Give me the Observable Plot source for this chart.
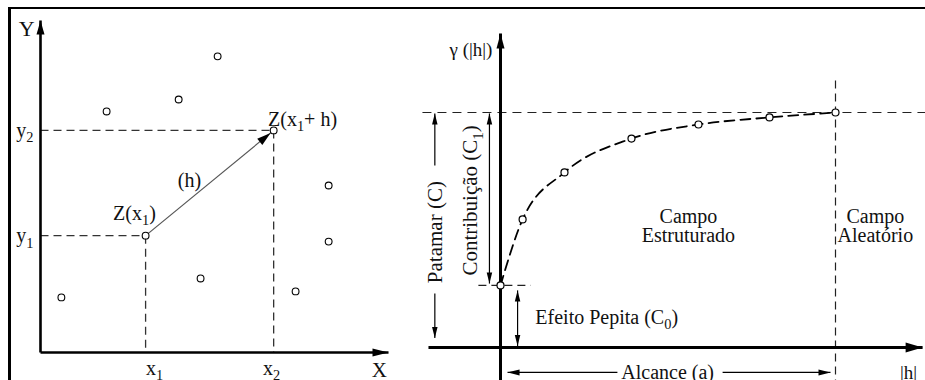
<!DOCTYPE html>
<html><head><meta charset="utf-8">
<script src="https://cdn.jsdelivr.net/npm/d3@7"></script>
<script src="https://cdn.jsdelivr.net/npm/@observablehq/plot@0.6"></script>
<style>
html,body{margin:0;padding:0;background:#fff}
#wrap{position:relative;width:925px;height:380px;overflow:hidden}
#left,#right{position:absolute;top:0;height:380px}
#left{left:0;width:400px}
#right{left:400px;width:525px}
#frame{position:absolute;left:8px;top:7px;right:-5px;bottom:-5px;border-top:2px solid #000;border-left:3px solid #000;pointer-events:none}
</style></head><body>
<div id="wrap"><div id="left"></div><div id="right"></div><div id="frame"></div></div>
<script>
// ---------- Left panel: sample locations (arbitrary spatial units, 0–100) ----------
const sampleX = [6.0, 19.0, 39.7, 50.9, 82.8, 82.8, 46.0, 73.3];
const sampleY = [16.6, 72.6, 76.2, 89.2, 50.3, 33.4, 22.3, 18.4];
const pairX = [30.2, 67.0];           // x1, x2
const pairY = [35.2, 66.9];           // y1, y2
const pairNames = ["Z(x_1)", "Z(x_1+ h)"];
const pairLabelX = [27.0, 75.3];
const pairLabelY = [41.9, 70.2];
const xTickLabels = ["x_1", "x_2"];
const xTickLabelX = [32.8, 66.4];
const yTickLabels = ["y_1", "y_2"];
const lagLabel = ["(h)"];
const axisNames = ["X", "Y"];

// ---------- Right panel: semivariogram (|h| in % of range, γ in units of sill) ----------
const lag = [0, 6.6, 19.1, 39.1, 59.1, 80.3, 100];
const gamma = [0.264, 0.545, 0.745, 0.889, 0.949, 0.979, 1.0];
const nugget = 0.264, sill = 1.0, rangeA = 100;
const fieldNames = ["Campo\nEstruturado", "Campo\nAleatório"];
const fieldX = [56.1, 111.9];
const dimLabels = ["Patamar (C)", "Contribuição (C_1)"];
const dimLabelX = [-19.6, -9.0];
const dimLabelY = [0.491, 0.626];

const SVGNS = "http://www.w3.org/2000/svg";
const FONT = "'Liberation Serif', 'Times New Roman', serif";
const INK = "#111";

// filled arrow head symbol, pointing along (dx,dy) in screen space, tip offset by inset px
function head(dx, dy, len, wid, inset = 0) {
  const n = Math.hypot(dx, dy), ux = dx / n, uy = dy / n;
  return {draw(ctx) {
    const tx = ux * inset, ty = uy * inset;
    const bx = tx - ux * len, by = ty - uy * len;
    ctx.moveTo(tx, ty);
    ctx.lineTo(bx - uy * wid / 2, by + ux * wid / 2);
    ctx.lineTo(bx + uy * wid / 2, by - ux * wid / 2);
    ctx.closePath();
  }};
}
const headDot = (pts, sym) => Plot.dot(pts, {x: "x", y: "y", symbol: sym, r: 5, fill: "#000", stroke: "none"});

function addSubscripts(svg) {
  svg.querySelectorAll("text").forEach(t => {
    if (t.querySelector("tspan")) return;
    const s = t.textContent;
    if (!s.includes("_")) return;
    const fs = parseFloat(getComputedStyle(t).fontSize) || 20;
    const shift = fs * 0.28;
    t.textContent = "";
    let prevSub = false;
    s.split(/_(\d)/).forEach((part, i) => {
      if (!part) return;
      const ts = document.createElementNS(SVGNS, "tspan");
      ts.textContent = part;
      if (i % 2) { ts.setAttribute("font-size", (fs * 0.72).toFixed(1)); ts.setAttribute("dy", shift); prevSub = true; }
      else if (prevSub) { ts.setAttribute("dy", -shift); prevSub = false; }
      t.appendChild(ts);
    });
  });
}

// ---------- LEFT PLOT ----------
const lxR = [40, 388], lyR = [352, 20];
const lx = d3.scaleLinear([0, 100], lxR), ly = d3.scaleLinear([0, 100], lyR);
const samples = sampleX.map((x, i) => ({x, y: sampleY[i]}));
const pair = pairX.map((x, i) => ({x, y: pairY[i], name: pairNames[i], lx: pairLabelX[i], ly: pairLabelY[i],
  tx: xTickLabels[i], txx: xTickLabelX[i], ty: yTickLabels[i]}));
const hdx = lx(pairX[1]) - lx(pairX[0]), hdy = ly(pairY[1]) - ly(pairY[0]);

const left = Plot.plot({
  width: 400, height: 380, margin: 0,
  x: {domain: [0, 100], range: lxR, axis: null},
  y: {domain: [0, 100], range: lyR, axis: null},
  style: {background: "transparent", overflow: "visible", fontFamily: FONT, color: INK},
  marks: [
    Plot.link(pair, {x1: () => 0, y1: "y", x2: "x", y2: "y", stroke: "#333", strokeWidth: 1.3, strokeDasharray: "8,5"}),
    Plot.link(pair, {x1: "x", y1: "y", x2: "x", y2: () => 0, stroke: "#333", strokeWidth: 1.3, strokeDasharray: "8,5"}),
    Plot.link([0], {x1: () => 0, y1: () => 0, x2: () => 0, y2: () => 100, stroke: "#000", strokeWidth: 2.6}),
    Plot.link([0], {x1: () => 0, y1: () => 0, x2: () => 100, y2: () => 0, stroke: "#000", strokeWidth: 2.6}),
    headDot([{x: 0, y: 100}], head(0, -1, 14, 8)),
    headDot([{x: 100, y: 0}], head(1, 0, 16, 8)),
    Plot.link([0], {x1: () => pairX[0], y1: () => pairY[0], x2: () => pairX[1], y2: () => pairY[1], stroke: "#555", strokeWidth: 1.2}),
    headDot([{x: pairX[1], y: pairY[1]}], head(hdx, hdy, 14, 8, -4)),
    Plot.dot(samples, {x: "x", y: "y", r: 3.4, fill: "#fff", stroke: "#000", strokeWidth: 1.1}),
    Plot.dot(pair, {x: "x", y: "y", r: 3.4, fill: "#fff", stroke: "#000", strokeWidth: 1.1}),
    Plot.text(pair, {x: "lx", y: "ly", text: "name", fontSize: 20}),
    Plot.text(pair, {x: "txx", y: () => -4.8, text: "tx", fontSize: 20}),
    Plot.text(pair, {x: () => -2.0, y: "y", text: "ty", textAnchor: "end", fontSize: 20}),
    Plot.text(lagLabel, {x: () => 42.8, y: () => 51.8, text: d => d, fontSize: 20}),
    Plot.text([axisNames[0]], {x: () => 97.4, y: () => -5.4, text: d => d, fontSize: 21}),
    Plot.text([axisNames[1]], {x: () => -4.0, y: () => 97.6, text: d => d, fontSize: 22})
  ]
});
document.getElementById("left").appendChild(left);
addSubscripts(left);

// ---------- RIGHT PLOT ----------
const rxR = [100, 435], ryR = [347, 112];
const model = lag.map((h, i) => ({x: h, y: gamma[i]}));
const fields = fieldNames.map((t, i) => ({t, x: fieldX[i], y: 0.515}));
const dims = dimLabels.map((t, i) => ({t, x: dimLabelX[i], y: dimLabelY[i]}));

const right = Plot.plot({
  width: 525, height: 380, margin: 0,
  x: {domain: [0, 100], range: rxR, axis: null},
  y: {domain: [0, 1], range: ryR, axis: null},
  style: {background: "transparent", overflow: "visible", fontFamily: FONT, color: INK},
  marks: [
    // sill, range and nugget guides
    Plot.link([sill], {x1: () => -23.3, x2: () => 127, y1: d => d, y2: d => d, stroke: "#222", strokeWidth: 1.2, strokeDasharray: "9,6"}),
    Plot.link([rangeA], {x1: d => d, x2: d => d, y1: () => 1.136, y2: () => -0.16, stroke: "#222", strokeWidth: 1.2, strokeDasharray: "8,5"}),
    Plot.link([nugget], {x1: () => -6.6, x2: () => 9.0, y1: d => d, y2: d => d, stroke: "#222", strokeWidth: 1.2, strokeDasharray: "8,5"}),
    // axes
    Plot.link([0], {x1: () => -21.5, y1: () => 0, x2: () => 126, y2: () => 0, stroke: "#000", strokeWidth: 3}),
    Plot.link([0], {x1: () => 0, y1: () => -0.16, x2: () => 0, y2: () => 1.336, stroke: "#000", strokeWidth: 3}),
    headDot([{x: 126, y: 0}], head(1, 0, 17, 10)),
    headDot([{x: 0, y: 1.336}], head(0, -1, 15, 8)),
    // model curve
    Plot.line(model, {x: "x", y: "y", curve: "monotone-x", stroke: "#000", strokeWidth: 1.8, strokeDasharray: "10,6"}),
    // dimension arrows
    Plot.link([0], {x1: () => -19.6, x2: () => -19.6, y1: () => 0.996, y2: () => 0.774, stroke: "#000", strokeWidth: 1.2}),
    Plot.link([0], {x1: () => -19.6, x2: () => -19.6, y1: () => 0.23, y2: () => 0.04, stroke: "#000", strokeWidth: 1.2}),
    headDot([{x: -19.6, y: 0.996}], head(0, -1, 11, 5.5)),
    headDot([{x: -19.6, y: 0.04}], head(0, 1, 11, 5.5)),
    Plot.link([0], {x1: () => -3.3, x2: () => -3.3, y1: () => 0.996, y2: () => 0.272, stroke: "#000", strokeWidth: 1.2}),
    headDot([{x: -3.3, y: 0.996}], head(0, -1, 11, 5.5)),
    headDot([{x: -3.3, y: 0.272}], head(0, 1, 11, 5.5)),
    Plot.link([0], {x1: () => 5.1, x2: () => 5.1, y1: () => 0.243, y2: () => 0.006, stroke: "#000", strokeWidth: 1.2}),
    headDot([{x: 5.1, y: 0.243}], head(0, -1, 11, 5.5)),
    headDot([{x: 5.1, y: 0.006}], head(0, 1, 11, 5.5)),
    Plot.link([0], {x1: () => 2.1, x2: () => 34.9, y1: () => -0.106, y2: () => -0.106, stroke: "#000", strokeWidth: 1.2}),
    Plot.link([0], {x1: () => 66.3, x2: () => 98.5, y1: () => -0.106, y2: () => -0.106, stroke: "#000", strokeWidth: 1.2}),
    headDot([{x: 2.1, y: -0.106}], head(-1, 0, 12, 6)),
    headDot([{x: 98.5, y: -0.106}], head(1, 0, 12, 6)),
    // sample points
    Plot.dot(model, {x: "x", y: "y", r: 3.5, fill: "#fff", stroke: "#000", strokeWidth: 1.2}),
    // labels
    Plot.text(["γ (|h|)"], {x: () => -2.4, y: () => 1.268, text: d => d, textAnchor: "end", fontSize: 19}),
    Plot.text(dims, {x: "x", y: "y", text: "t", rotate: -90, fontSize: 21}),
    Plot.text(["Efeito Pepita (C_0)"], {x: () => 10.4, y: () => 0.128, text: d => d, textAnchor: "start", fontSize: 20}),
    Plot.text(["Alcance (a)"], {x: () => 49.9, y: () => -0.106, text: d => d, fontSize: 20}),
    Plot.text(["|h|"], {x: () => 121.8, y: () => -0.106, text: d => d, fontSize: 19}),
    Plot.text(fields, {x: "x", y: "y", text: "t", fontSize: 20, lineHeight: 0.92})
  ]
});
document.getElementById("right").appendChild(right);
addSubscripts(right);
</script>
</body></html>
